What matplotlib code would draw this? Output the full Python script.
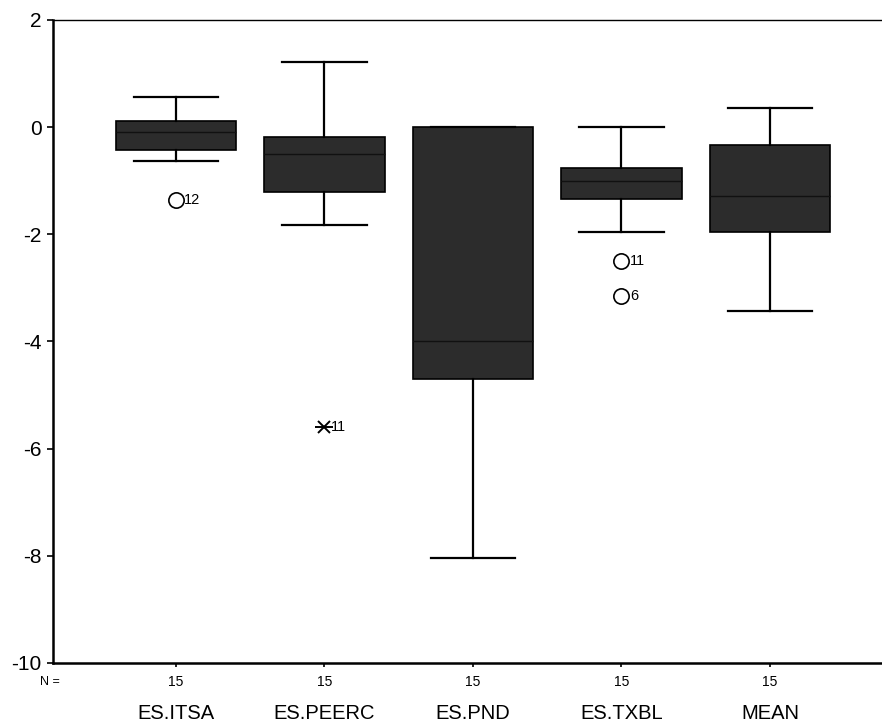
import matplotlib.pyplot as plt

# ---- DATA ----
labels = ["ES.ITSA", "ES.PEERC", "ES.PND", "ES.TXBL", "MEAN"]
n_counts = [15, 15, 15, 15, 15]
whisker_hi = [0.57, 1.21, 0.0, 0.0, 0.35]
q3 = [0.12, -0.19, 0.0, -0.77, -0.34]
medians = [-0.10, -0.50, -4.0, -1.0, -1.28]
q1 = [-0.43, -1.21, -4.70, -1.34, -1.96]
whisker_lo = [-0.63, -1.83, -8.04, -1.96, -3.43]

# outliers: (box index, value, case label)
outlier_box = [0, 3, 3]
outlier_val = [-1.36, -2.50, -3.15]
outlier_case = ["12", "11", "6"]
extreme_box = [1]
extreme_val = [-5.60]
extreme_case = ["11"]

plt.rcParams["font.family"] = ["Liberation Sans", "DejaVu Sans"]

fig = plt.figure(figsize=(8.82, 7.26), dpi=100)
ax = fig.add_axes([0.060, 0.0868, 0.94, 0.8857])

stats = []
for i in range(len(labels)):
    stats.append({
        "whishi": whisker_hi[i], "q3": q3[i], "med": medians[i],
        "q1": q1[i], "whislo": whisker_lo[i], "fliers": [],
    })

pos = list(range(1, len(labels) + 1))
ax.bxp(stats, positions=pos, widths=0.81, capwidths=0.57, patch_artist=True,
       showfliers=False,
       boxprops=dict(facecolor="#2c2c2c", edgecolor="black", linewidth=1.2),
       medianprops=dict(color="#111111", linewidth=1.0),
       whiskerprops=dict(color="black", linewidth=1.6),
       capprops=dict(color="black", linewidth=1.6))

# ---- OUTLIERS ----
for b, v, c in zip(outlier_box, outlier_val, outlier_case):
    ax.plot(pos[b], v, marker="o", ms=11, mfc="white", mec="black", mew=1.2,
            linestyle="none")
    ax.annotate(c, (pos[b], v), xytext=(6, 0), textcoords="offset points",
                va="center", ha="left", fontsize=10.5)

for b, v, c in zip(extreme_box, extreme_val, extreme_case):
    ax.plot(pos[b], v, marker="x", ms=9, mec="black", mew=1.4, linestyle="none")
    ax.plot(pos[b], v, marker="_", ms=13, mec="black", mew=1.4, linestyle="none")
    ax.annotate(c, (pos[b], v), xytext=(5, 0), textcoords="offset points",
                va="center", ha="left", fontsize=10.5)

# ---- AXES ----
ax.set_xlim(0.172, 5.754)
ax.set_ylim(-10, 2)
ax.set_yticks([2, 0, -2, -4, -6, -8, -10])
ax.set_yticklabels(["2", "0", "-2", "-4", "-6", "-8", "-10"], fontsize=15)
ax.tick_params(axis="y", direction="out", length=4, width=1.2, pad=4)
ax.set_xticks(pos)
ax.set_xticklabels([])
ax.tick_params(axis="x", direction="out", length=3, width=1.2)

ax.spines["right"].set_visible(False)
ax.spines["top"].set_linewidth(1.0)
ax.spines["left"].set_linewidth(1.8)
ax.spines["bottom"].set_linewidth(1.8)

trans = ax.get_xaxis_transform()
ax.text(-0.004, -0.0295, "N =", transform=ax.transAxes, ha="center", va="center",
        fontsize=9)
for p, n, lab in zip(pos, n_counts, labels):
    ax.text(p, -0.0295, str(n), transform=trans, ha="center", va="center",
            fontsize=10)
    ax.text(p, -0.078, lab, transform=trans, ha="center", va="center",
            fontsize=14.5)

fig.savefig("out.png", dpi=100)
